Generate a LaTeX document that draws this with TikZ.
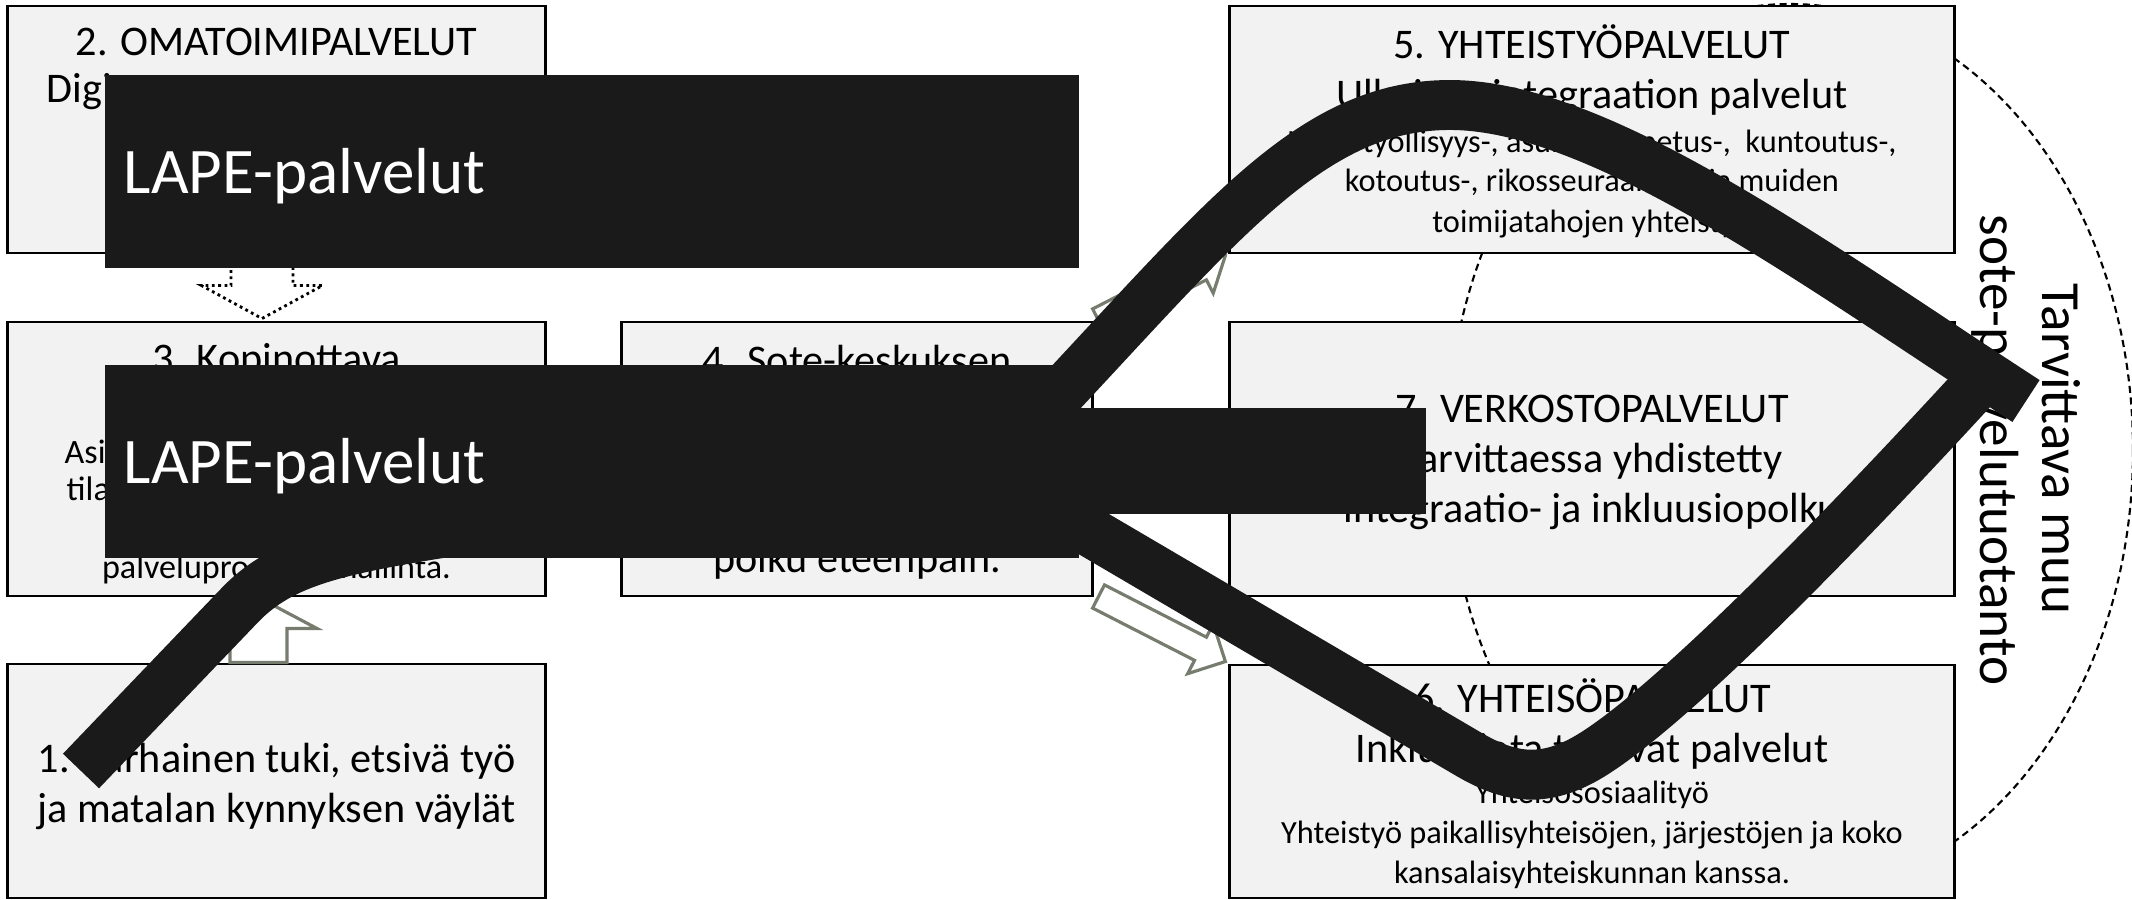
\documentclass[tikz,border=0pt]{standalone}
\usepackage{fontspec}
\setmainfont{Carlito}
\usetikzlibrary{calc}
\definecolor{boxgray}{RGB}{242,242,242}
\definecolor{lapeblack}{RGB}{26,26,26}
\definecolor{arrgray}{RGB}{118,124,110}

% block arrow: [style]{tail}{tip}{shaft half width}{head half width}{head length}
\newcommand{\blockarrow}[6][]{%
  \draw[#1] ($(#2)!#4!90:(#3)$) -- ($(#3)!#6!(#2)!#4!90:(#3)$)
    -- ($(#3)!#6!(#2)!#5!90:(#3)$) -- (#3)
    -- ($(#3)!#6!(#2)!#5!-90:(#3)$) -- ($(#3)!#6!(#2)!#4!-90:(#3)$)
    -- ($(#2)!#4!-90:(#3)$) -- cycle;}

\begin{document}
\begin{tikzpicture}[x=0.01cm, y=-0.01cm,
  box/.style={draw, fill=boxgray, line width=0.8pt, inner sep=0pt},
  big/.style={anchor=base, inner sep=0pt, font=\fontsize{12}{14}\selectfont},
  mid/.style={anchor=base, inner sep=0pt, font=\fontsize{9.7}{11}\selectfont},
  small/.style={anchor=base, inner sep=0pt, font=\fontsize{9.2}{11}\selectfont},
  rot/.style={anchor=base, inner sep=0pt, rotate=-90, font=\fontsize{15.7}{18}\selectfont},
  lape/.style={fill=lapeblack, text=white, anchor=north west, inner ysep=0pt, inner xsep=0.19cm,
    minimum width=9.74cm, minimum height=1.93cm, text width=9.36cm, align=left, text depth=0pt,
    font=\fontsize{18.5}{22}\selectfont},
  outl/.style={draw=arrgray, fill=white, line width=0.9pt},
  dotarr/.style={draw=black, fill=white, densely dotted, line width=0.8pt},
  bigcurve/.style={draw=lapeblack, line width=14.2pt}
]
  \useasboundingbox (0,0) rectangle (2132,900);

  % dashed circle behind the right boxes
  \draw[line width=0.6pt, dash pattern=on 2pt off 1.3pt] (1790,450) ellipse [x radius=343, y radius=446];

  % boxes
  \node[box, minimum width=5.37cm, minimum height=2.47cm] (b2) at (276.5,129.5) {};
  \node[box, minimum width=5.37cm, minimum height=2.74cm] (b3) at (276.5,459) {};
  \node[box, minimum width=5.37cm, minimum height=2.34cm] (b1) at (276.5,781) {};
  \node[box, minimum width=4.70cm, minimum height=2.74cm] (b4) at (857,459) {};
  \node[box, minimum width=7.24cm, minimum height=2.47cm] (b5) at (1592,129.5) {};
  \node[box, minimum width=7.24cm, minimum height=2.74cm] (b7) at (1592,459) {};
  \node[box, minimum width=7.24cm, minimum height=2.33cm] (b6) at (1592,781.5) {};

  % texts, left column
  \node[big] (t2) at (276.5,55) {2. OMATOIMIPALVELUT};
  \node[big, anchor=base west] (t2a) at (46,103) {Digi};
  \node[big] (t3) at (276.5,372) {3. Kopinottava};
  \node[mid, anchor=base west] (t3a) at (64,463) {Asi};
  \node[mid, anchor=base west] (t3b) at (66,500) {tila};
  \node[mid] (t3c) at (276.5,578) {palveluprosessin hallinta.};
  \node[big] (t1a) at (276.5,772) {1. Varhainen tuki, etsivä työ};
  \node[big] (t1b) at (276.5,822) {ja matalan kynnyksen väylät};

  % middle
  \node[big] (t4a) at (857,374) {4. Sote-keskuksen};
  \node[big] (t4b) at (857,572) {polku eteenpäin.};

  % right column
  \node[big] (t5) at (1592,58) {5. YHTEISTYÖPALVELUT};
  \node[big] (t5a) at (1592,108) {Ulkoisen integraation palvelut};
  \node[small] (t5b) at (1592,152) {Laaja työllisyys-, asumis-, opetus-,~ kuntoutus-,};
  \node[small] (t5c) at (1592,191) {kotoutus-, rikosseuraamus- ja muiden};
  \node[small] (t5d) at (1592,232) {toimijatahojen yhteistyö};

  \node[big] (t7) at (1592,422) {7. VERKOSTOPALVELUT};
  \node[big] (t7a) at (1592,472) {Tarvittaessa yhdistetty};
  \node[big] (t7b) at (1592,522) {integraatio- ja inkluusiopolku};

  \node[big] (t6) at (1592,712) {6. YHTEISÖPALVELUT};
  \node[big] (t6a) at (1592,762) {Inkluusiota tukevat palvelut};
  \node[small] (t6b) at (1592,803) {Yhteisösosiaalityö};
  \node[small] (t6c) at (1592,843) {Yhteistyö paikallisyhteisöjen, järjestöjen ja koko};
  \node[small] (t6d) at (1592,883) {kansalaisyhteiskunnan kanssa.};

  % arrows between boxes
  \coordinate (a1s) at ($(b1.north)+(-18,0)$);
  \coordinate (a1e) at ($(b3.south)+(-18,0)$);
  \coordinate (a2s) at ($(b2.south)+(-14.5,0)$);
  \coordinate (a2e) at ($(b3.north)+(-14.5,-2)$);
  \coordinate (a4s) at ($(b4.north east)+(5,0)$);
  \coordinate (a4e) at ($(b5.south west)+(-3,1)$);
  \coordinate (a6s) at ($(b4.south east)+(5,-1)$);
  \coordinate (a6e) at ($(b6.north west)+(-3,-2)$);
  \blockarrow[outl]{a1s}{a1e}{0.285cm}{0.585cm}{0.31cm}
  \blockarrow[dotarr]{a2s}{a2e}{0.31cm}{0.605cm}{0.33cm}
  \blockarrow[outl]{a4s}{a4e}{0.13cm}{0.28cm}{0.28cm}
  \blockarrow[outl]{a6s}{a6e}{0.13cm}{0.28cm}{0.28cm}

  % side label
  \node[rot] (r1) at (2042,449) {Tarvittava muu};
  \node[rot] (r2) at (1980,450) {sote-palvelutuotanto};

  % black overlays
  \node[lape] (lape1) at (104,74) {LAPE-palvelut};
  \node[lape] (lape2) at (104,364) {LAPE-palvelut};
  \node[fill=lapeblack, anchor=north west, inner sep=0pt, minimum width=4.25cm, minimum height=1.06cm] (lapex) at (1000,407) {};

  \draw[bigcurve] (81,771) -- (240,605) .. controls (290,553) and (360,545) .. (560,515);
  \draw[bigcurve] (1000,457) .. controls (1208,241) and (1300,105) .. (1450,105)
    .. controls (1600,105) and (1815,264) .. (2026,401);
  \draw[bigcurve] (1000,479) -- (1470,755) .. controls (1510,778) and (1545,785) .. (1595,753)
    .. controls (1690,692) and (1885,485) .. (1992,368);
\end{tikzpicture}
\end{document}
